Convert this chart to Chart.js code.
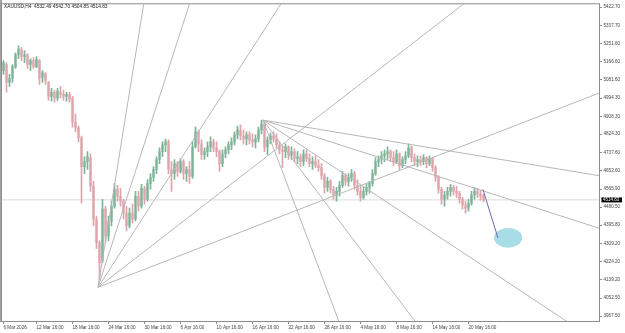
<!DOCTYPE html>
<html>
<head>
<meta charset="utf-8">
<title>XAUUSD,H4</title>
<script src="https://cdn.jsdelivr.net/npm/chart.js@4.4.1/dist/chart.umd.min.js"></script>
<style>
  html, body { margin: 0; padding: 0; background: #fff; }
  #wrap { width: 625px; height: 333px; }
</style>
</head>
<body>
<div id="wrap"><canvas id="chart" width="625" height="333"></canvas></div>
<script>
// Gold H4 (one candle here = two H4 bars)
const opens = [
  5124, 5152, 5068, 5087, 5143, 5199, 5222, 5190, 5199, 5152, 5171, 5143, 5171, 5092, 5110, 5068,
  5003, 5022, 4994, 5022, 5012, 5003, 5012, 4994, 4882, 4854, 4807, 4672, 4695, 4714, 4579, 4425,
  4313, 4229, 4471, 4345, 4415, 4485, 4565, 4532, 4509, 4453, 4392, 4453, 4425, 4532, 4485, 4569,
  4518, 4593, 4621, 4658, 4705, 4742, 4774, 4788, 4658, 4639, 4686, 4649, 4695, 4639, 4658, 4625,
  4765, 4835, 4779, 4728, 4742, 4765, 4788, 4760, 4742, 4686, 4732, 4751, 4774, 4788, 4821, 4844,
  4816, 4802, 4821, 4798, 4788, 4802, 4844, 4872, 4765, 4798, 4816, 4802, 4774, 4751, 4742, 4765,
  4728, 4742, 4709, 4718, 4695, 4732, 4709, 4686, 4695, 4676, 4667, 4630, 4574, 4602, 4565, 4537,
  4555, 4583, 4630, 4602, 4621, 4639, 4583, 4555, 4527, 4555, 4574, 4593, 4639, 4695, 4705, 4723,
  4732, 4742, 4714, 4695, 4732, 4676, 4705, 4723, 4760, 4714, 4695, 4705, 4695, 4714, 4686, 4709,
  4667, 4621, 4565, 4518, 4537, 4555, 4574, 4555, 4546, 4518, 4490, 4476, 4499, 4537, 4555, 4541,
  4532.49
];
const highs = [
  5171, 5162, 5106, 5152, 5208, 5241, 5232, 5218, 5204, 5180, 5185, 5190, 5176, 5124, 5115, 5073,
  5040, 5031, 5040, 5050, 5031, 5022, 5022, 5003, 4919, 4863, 4816, 4718, 4742, 4732, 4602, 4439,
  4322, 4518, 4485, 4439, 4509, 4593, 4583, 4569, 4518, 4485, 4476, 4495, 4555, 4555, 4588, 4579,
  4611, 4639, 4672, 4718, 4760, 4788, 4802, 4798, 4695, 4705, 4695, 4709, 4705, 4672, 4695, 4788,
  4858, 4844, 4798, 4760, 4788, 4812, 4802, 4788, 4751, 4751, 4765, 4788, 4807, 4835, 4863, 4868,
  4844, 4835, 4835, 4826, 4821, 4858, 4891, 4882, 4812, 4830, 4835, 4826, 4788, 4770, 4779, 4770,
  4765, 4756, 4742, 4732, 4751, 4751, 4732, 4718, 4723, 4705, 4686, 4639, 4621, 4611, 4579, 4574,
  4602, 4649, 4639, 4639, 4658, 4649, 4611, 4579, 4574, 4593, 4602, 4658, 4714, 4723, 4742, 4751,
  4765, 4751, 4742, 4751, 4737, 4718, 4742, 4779, 4770, 4732, 4723, 4723, 4728, 4718, 4723, 4714,
  4676, 4630, 4574, 4555, 4574, 4588, 4583, 4579, 4555, 4527, 4509, 4518, 4555, 4574, 4569, 4560,
  4542.70
];
const lows = [
  5106, 5022, 5050, 5068, 5134, 5180, 5171, 5162, 5134, 5124, 5134, 5138, 5059, 5068, 5059, 4984,
  4980, 4975, 4984, 4994, 4984, 4980, 4975, 4858, 4835, 4788, 4499, 4639, 4658, 4555, 4392, 4285,
  4136, 4219, 4313, 4322, 4392, 4476, 4509, 4485, 4425, 4369, 4383, 4406, 4416, 4462, 4476, 4495,
  4509, 4565, 4602, 4639, 4686, 4718, 4742, 4639, 4555, 4611, 4625, 4641, 4611, 4602, 4593, 4616,
  4760, 4742, 4705, 4705, 4718, 4742, 4742, 4718, 4649, 4672, 4714, 4732, 4751, 4774, 4802, 4798,
  4779, 4774, 4779, 4765, 4760, 4788, 4826, 4742, 4728, 4779, 4788, 4760, 4732, 4667, 4714, 4705,
  4705, 4695, 4686, 4672, 4676, 4695, 4672, 4658, 4667, 4649, 4611, 4546, 4555, 4546, 4518, 4509,
  4532, 4574, 4583, 4579, 4602, 4565, 4537, 4509, 4518, 4537, 4546, 4579, 4630, 4672, 4686, 4695,
  4705, 4695, 4676, 4686, 4658, 4667, 4686, 4714, 4695, 4676, 4672, 4676, 4681, 4667, 4676, 4649,
  4602, 4546, 4495, 4485, 4518, 4532, 4537, 4527, 4499, 4471, 4453, 4462, 4490, 4518, 4527, 4513,
  4504.85
];
const closes = [
  5162, 5068, 5087, 5143, 5199, 5227, 5190, 5199, 5152, 5171, 5143, 5176, 5087, 5115, 5078, 5003,
  5022, 4994, 5026, 5012, 5003, 5012, 4989, 4882, 4854, 4807, 4672, 4695, 4718, 4579, 4425, 4313,
  4219, 4471, 4345, 4415, 4485, 4565, 4532, 4509, 4453, 4392, 4453, 4425, 4532, 4485, 4569, 4518,
  4593, 4621, 4658, 4705, 4742, 4774, 4788, 4658, 4639, 4686, 4649, 4695, 4639, 4658, 4625, 4765,
  4835, 4779, 4728, 4742, 4765, 4788, 4760, 4742, 4686, 4732, 4751, 4774, 4788, 4821, 4844, 4816,
  4802, 4821, 4798, 4788, 4802, 4844, 4872, 4765, 4798, 4816, 4802, 4774, 4751, 4742, 4765, 4728,
  4742, 4709, 4718, 4695, 4732, 4709, 4686, 4695, 4676, 4667, 4630, 4574, 4602, 4565, 4537, 4555,
  4583, 4630, 4602, 4621, 4639, 4583, 4555, 4527, 4555, 4574, 4593, 4639, 4695, 4705, 4723, 4732,
  4742, 4714, 4695, 4732, 4676, 4705, 4723, 4760, 4714, 4695, 4705, 4695, 4714, 4686, 4709, 4667,
  4621, 4565, 4518, 4537, 4555, 4574, 4555, 4546, 4518, 4490, 4476, 4499, 4537, 4555, 4541, 4532,
  4514.83
];

// time axis labels and the candle each one sits on
const dateLabels = ['6 Mar 2026', '12 Mar 16:00', '18 Mar 16:00', '24 Mar 16:00', '30 Mar 16:00',
  '6 Apr 16:00', '10 Apr 16:00', '16 Apr 16:00', '22 Apr 16:00', '28 Apr 16:00', '4 May 16:00',
  '8 May 16:00', '14 May 16:00', '20 May 16:00'];
const dateTickBars = [0, 11, 23, 35, 47, 59, 71, 83, 95, 107, 119, 131, 143, 155];

// price axis labels
const priceTicks = [5422.70, 5337.70, 5251.60, 5166.60, 5081.60, 4994.30, 4908.30, 4824.30, 4737.60,
  4652.60, 4565.90, 4480.50, 4395.80, 4309.20, 4224.20, 4139.20, 4052.50, 3967.50];

// Gann fans: anchor (bar, price) and ray slopes in price per bar
const fanLowAnchor = [31.5, 4102.8];
const fanLowSlopes = [5.48, 10.96, 21.9, 43.8, 87.6];
const fanHighAnchor = [86.5, 4891.0];
const fanHighSlopes = [-2.34, -4.55, -9.37, -18.7, -37.5];

// projection line and target zone
const projection = [[159.8, 4564.5], [164.8, 4336.0]];
const targetZone = [168.2, 4336.0, 4.7, 46.6]; // bar, price, half width (bars), half height (price)

const symbolName = 'XAUUSD,H4';
const X_MIN = -0.5, X_MAX = 198.83;
const Y_MIN = 3939.5, Y_MAX = 5436.7;

const BULL = '#7db497';
const BEAR = '#dca4ab';
const FAN = '#b7b7b7';
const FONT = 'Liberation Sans';

const n = closes.length;
const lastClose = closes[n - 1];
const candleColors = closes.map((c, i) => c >= opens[i] ? BULL : BEAR);
const wickData = closes.map((c, i) => ({ x: i, y: [lows[i], highs[i]] }));
const bodyData = closes.map((c, i) => ({ x: i, y: [Math.min(opens[i], c), Math.max(opens[i], c)] }));

function fanSets(anchor, slopes) {
  return slopes.map(s => ({
    type: 'line',
    data: [
      { x: anchor[0], y: anchor[1] },
      { x: X_MAX, y: anchor[1] + s * (X_MAX - anchor[0]) }
    ],
    borderColor: FAN,
    borderWidth: 1,
    pointRadius: 0,
    order: 2
  }));
}

const decor = {
  id: 'decor',
  beforeDatasetsDraw(chart) {
    const { ctx, scales: { x, y } } = chart;
    const cx = x.getPixelForValue(targetZone[0]);
    const cy = y.getPixelForValue(targetZone[1]);
    const rx = Math.abs(x.getPixelForValue(targetZone[0] + targetZone[2]) - cx);
    const ry = Math.abs(y.getPixelForValue(targetZone[1] + targetZone[3]) - cy);
    ctx.save();
    ctx.fillStyle = '#a9dde6';
    ctx.beginPath();
    ctx.ellipse(cx, cy, rx, ry, 0, 0, Math.PI * 2);
    ctx.fill();
    ctx.restore();
  },
  afterDraw(chart) {
    const { ctx, chartArea: a, scales: { y } } = chart;
    ctx.save();
    // frame
    ctx.fillStyle = '#a3a3a3';
    ctx.fillRect(0, 0, 2, a.bottom);
    ctx.strokeStyle = '#8c8c8c';
    ctx.lineWidth = 1;
    ctx.strokeRect(a.left - 0.5, a.top - 0.5, a.right - a.left, a.bottom - a.top);
    // symbol + last bar
    ctx.fillStyle = '#222';
    ctx.font = '4.8px "' + FONT + '"';
    ctx.textBaseline = 'middle';
    ctx.fillText(symbolName + '  ' + [opens[n - 1], highs[n - 1], lows[n - 1], closes[n - 1]]
      .map(v => v.toFixed(2)).join(' '), 4, 7);
    // last price tag
    const py = y.getPixelForValue(lastClose);
    ctx.fillStyle = '#000';
    ctx.fillRect(a.right + 1.5, py - 2.5, 20.5, 5);
    ctx.fillStyle = '#fff';
    ctx.font = '4.5px "' + FONT + '"';
    ctx.fillText(lastClose.toFixed(2), a.right + 3, py + 0.2);
    ctx.restore();
  }
};

new Chart(document.getElementById('chart'), {
  type: 'bar',
  data: {
    datasets: [
      {
        type: 'line',
        data: [{ x: X_MIN, y: lastClose }, { x: X_MAX, y: lastClose }],
        borderColor: '#dadada',
        borderWidth: 1,
        pointRadius: 0,
        order: 6
      },
      {
        data: wickData,
        backgroundColor: candleColors,
        barThickness: 1,
        grouped: false,
        order: 5
      },
      {
        data: bodyData,
        backgroundColor: candleColors,
        barThickness: 1.6,
        minBarLength: 1,
        grouped: false,
        order: 4
      },
      ...fanSets(fanLowAnchor, fanLowSlopes),
      ...fanSets(fanHighAnchor, fanHighSlopes),
      {
        type: 'line',
        data: projection.map(p => ({ x: p[0], y: p[1] })),
        borderColor: '#6a6aa8',
        borderWidth: 1,
        pointRadius: 0,
        order: 1
      }
    ]
  },
  options: {
    responsive: false,
    animation: false,
    devicePixelRatio: 1,
    events: [],
    layout: { padding: { left: 2, top: 1, right: 0, bottom: 0 } },
    plugins: { legend: { display: false }, tooltip: { enabled: false } },
    scales: {
      x: {
        type: 'linear',
        min: X_MIN,
        max: X_MAX,
        offset: false,
        grid: { display: true, drawOnChartArea: false, drawTicks: true, tickLength: 2, color: '#8c8c8c', offset: false },
        border: { display: false },
        afterBuildTicks(scale) { scale.ticks = dateTickBars.map(v => ({ value: v })); },
        afterFit(scale) { scale.height = 11; },
        ticks: {
          autoSkip: false,
          maxRotation: 0,
          align: 'start',
          padding: 0.5,
          color: '#444',
          font: { family: FONT, size: 4.6 },
          callback: (v, i) => dateLabels[i]
        }
      },
      y: {
        position: 'right',
        min: Y_MIN,
        max: Y_MAX,
        beginAtZero: false,
        grid: { display: true, drawOnChartArea: false, drawTicks: true, tickLength: 2, color: '#8c8c8c' },
        border: { display: false },
        afterBuildTicks(scale) { scale.ticks = priceTicks.map(v => ({ value: v })); },
        afterFit(scale) { scale.width = 25; },
        ticks: {
          autoSkip: false,
          padding: 1.5,
          color: '#444',
          font: { family: FONT, size: 4.6 },
          callback: v => v.toFixed(2)
        }
      }
    }
  },
  plugins: [decor]
});
</script>
</body>
</html>
